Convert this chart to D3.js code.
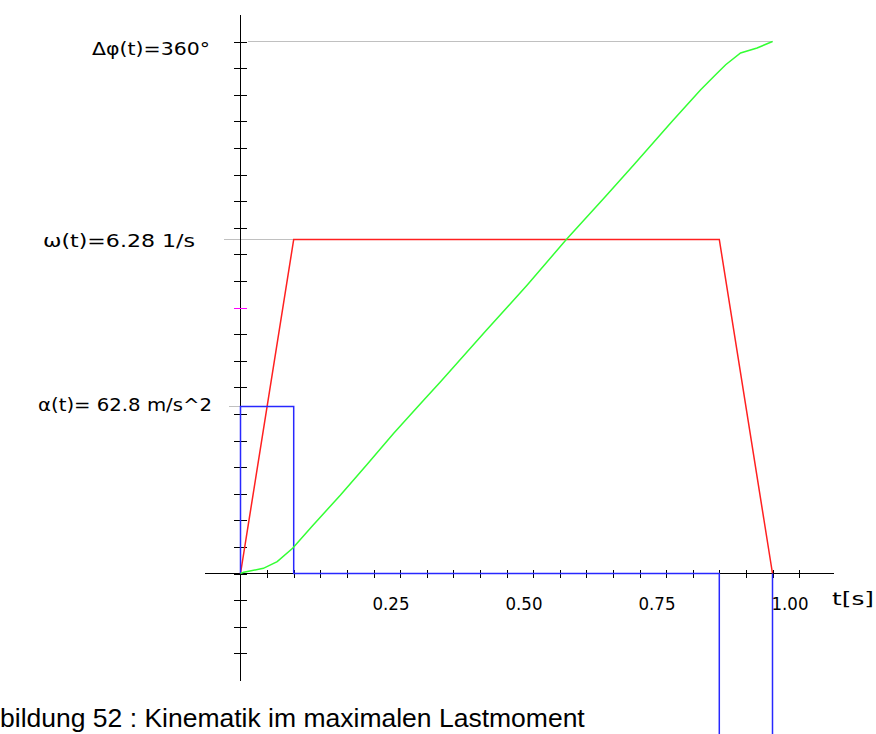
<!DOCTYPE html>
<html>
<head>
<meta charset="utf-8">
<script src="https://cdn.jsdelivr.net/npm/d3@7"></script>
<style>
  body { margin: 0; background: #fff; }
  svg { display: block; }
  .lbl { font-family: "DejaVu Sans", sans-serif; font-size: 17px; fill: #000; }
  .cap { font-family: "Liberation Sans", Arial, sans-serif; font-size: 26.5px; fill: #000; }
</style>
</head>
<body>
<svg id="chart" width="876" height="734"></svg>
<script>
// angle curve (t in s, angle in degrees)
const angleTimes = [0, 0.006, 0.043, 0.069, 0.098, 0.135, 0.188, 0.237, 0.288, 0.345, 0.376, 0.46, 0.539, 0.612, 0.686, 0.739, 0.811, 0.865, 0.893, 0.912, 0.94, 0.971, 1.0];
const angleDeg = [0, 0.8, 3.5, 8.0, 17.1, 32.2, 53.1, 73.4, 94.9, 117.5, 129.8, 163.7, 195.3, 225.8, 255.1, 276.5, 305.9, 327.3, 337.5, 344.3, 352.2, 355.6, 360];

// angular velocity (1/s)
const omegaTimes = [0, 0.1, 0.9, 1.0];
const omegaValues = [0, 6.28, 6.28, 0];

// angular acceleration (as labelled)
const alphaTimes = [0, 0, 0.1, 0.1, 0.9, 0.9, 1.0, 1.0];
const alphaValues = [0, 62.8, 62.8, 0, 0, -62.8, -62.8, 0];

const xTickValues = [0.25, 0.5, 0.75, 1.0];
const xTickLabels = ['0.25', '0.50', '0.75', '1.00'];
const phiLabel = 'Δφ(t)=360°';
const omegaLabel = 'ω(t)=6.28 1/s';
const alphaLabel = 'α(t)= 62.8 m/s^2';
const xLabel = 't[s]';
const caption = 'bildung 52 : Kinematik im maximalen Lastmoment';

const svg = d3.select('#chart');

const x = d3.scaleLinear().domain([0, 1]).range([240.5, 772.5]);
const yPhi = d3.scaleLinear().domain([0, 360]).range([573.5, 41.5]);
const yOmega = d3.scaleLinear().domain([0, 6.28]).range([573.5, 239.5]);
const yAlpha = d3.scaleLinear().domain([0, 62.8]).range([573.5, 406.5]);

// grey reference lines
const refs = svg.append('g')
  .attr('stroke', '#c0c0c0')
  .attr('shape-rendering', 'crispEdges');
refs.append('line')
  .attr('x1', x(0) + 7).attr('x2', x(1))
  .attr('y1', yPhi(360)).attr('y2', yPhi(360));
refs.append('line')
  .attr('x1', x(0) - 17).attr('x2', x(0.1))
  .attr('y1', yOmega(6.28)).attr('y2', yOmega(6.28));
refs.append('line')
  .attr('x1', x(0) - 12).attr('x2', x(0.1))
  .attr('y1', yAlpha(62.8)).attr('y2', yAlpha(62.8));

// axes
const axes = svg.append('g')
  .attr('stroke', '#000')
  .attr('shape-rendering', 'crispEdges');

axes.append('line')
  .attr('x1', x(-0.066)).attr('x2', x(1.115))
  .attr('y1', yPhi(0)).attr('y2', yPhi(0));
axes.append('line')
  .attr('x1', x(0)).attr('x2', x(0))
  .attr('y1', yPhi(378)).attr('y2', yPhi(-73));

// x ticks every 0.05 s
axes.selectAll('.xt')
  .data(d3.range(1, 22).map((k) => k * 0.05))
  .enter()
  .append('line')
  .attr('x1', (d) => Math.round(x(d)) + 0.5).attr('x2', (d) => Math.round(x(d)) + 0.5)
  .attr('y1', yPhi(0) - 4).attr('y2', yPhi(0) + 4);

// y ticks every 18 degrees
axes.selectAll('.yt')
  .data(d3.range(-3, 21).map((k) => k * 18))
  .enter()
  .append('line')
  .attr('x1', x(0) - 7).attr('x2', x(0) + 6)
  .attr('y1', (d) => Math.round(yPhi(d)) + 0.5).attr('y2', (d) => Math.round(yPhi(d)) + 0.5)
  .attr('stroke', (d) => (d === 180 ? '#ff00ff' : '#000'));

// curves
svg.append('path')
  .datum(omegaTimes.map((t, i) => [t, omegaValues[i]]))
  .attr('fill', 'none')
  .attr('stroke', '#ff2020')
  .attr('stroke-width', 1.5)
  .attr('d', d3.line().x((d) => x(d[0])).y((d) => yOmega(d[1])));

svg.append('path')
  .datum(alphaTimes.map((t, i) => [t, alphaValues[i]]))
  .attr('fill', 'none')
  .attr('stroke', '#2828ff')
  .attr('stroke-width', 1.5)
  .attr('d', d3.line().x((d) => x(d[0])).y((d) => yAlpha(d[1])));

svg.append('path')
  .datum(angleTimes.map((t, i) => [t, angleDeg[i]]))
  .attr('fill', 'none')
  .attr('stroke', '#33ff33')
  .attr('stroke-width', 1.5)
  .attr('d', d3.line().x((d) => x(d[0])).y((d) => yPhi(d[1])));

// labels
svg.append('text').attr('class', 'lbl')
  .attr('x', 92).attr('y', 55)
  .attr('textLength', 118).attr('lengthAdjust', 'spacingAndGlyphs')
  .text(phiLabel);
svg.append('text').attr('class', 'lbl')
  .attr('x', 43).attr('y', 247)
  .attr('textLength', 152).attr('lengthAdjust', 'spacingAndGlyphs')
  .text(omegaLabel);
svg.append('text').attr('class', 'lbl')
  .attr('x', 38).attr('y', 411)
  .attr('textLength', 174).attr('lengthAdjust', 'spacingAndGlyphs')
  .text(alphaLabel);

svg.selectAll('.xl')
  .data(xTickValues)
  .enter()
  .append('text')
  .attr('class', 'lbl')
  .attr('x', (d) => x(d) - 1)
  .attr('y', 610)
  .attr('textLength', 37).attr('lengthAdjust', 'spacingAndGlyphs')
  .text((d, i) => xTickLabels[i]);

svg.append('text').attr('class', 'lbl')
  .attr('x', 832).attr('y', 605)
  .attr('textLength', 42).attr('lengthAdjust', 'spacingAndGlyphs')
  .text(xLabel);

svg.append('text').attr('class', 'cap')
  .attr('x', 0).attr('y', 727)
  .text(caption);
</script>
</body>
</html>
